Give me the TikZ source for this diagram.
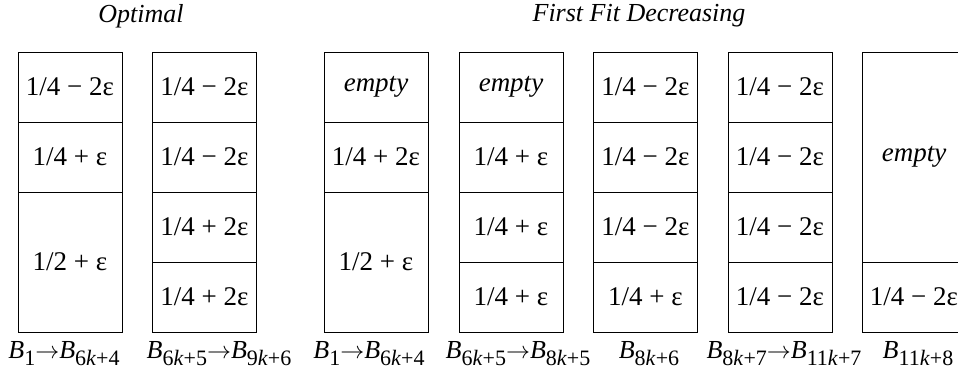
\documentclass[tikz,border=0pt]{standalone}
\usepackage{fontspec}
\setmainfont{Liberation Serif}
\usetikzlibrary{positioning}
\tikzset{
  cell/.style     = {draw,minimum width=52pt,minimum height=35pt,inner sep=0pt,outer sep=0pt},
  tallcell/.style = {cell,minimum height=70pt},
  hugecell/.style = {cell,minimum height=105pt},
  heading/.style  = {font=\fontsize{13}{15}\selectfont\itshape},
  binrange/.style = {anchor=base,inner sep=0pt,font=\fontsize{13}{15}\selectfont}
}
\newcommand{\bin}[1]{\textit{B}\raisebox{-3.5pt}{\fontsize{11}{12}\selectfont #1}}
\newcommand{\kk}{\textit{k}}
\newcommand{\ra}{$\rightarrow$}

\begin{document}
\begin{tikzpicture}[x=0.5pt,y=-0.5pt,font=\fontsize{13.5}{15}\selectfont]
  \useasboundingbox (0,0) rectangle (958,369);
  \clip (0,0) rectangle (958,369);
  \node[heading] (hopt) at (141,16) {Optimal};
  \node[heading] (hffd) at (639,16) {First Fit Decreasing};
  % optimal packing
  \node[cell] (o1a) at (70,87) {1/4 − 2ε};
  \node[cell,below=0pt of o1a] (o1b) {1/4 + ε};
  \node[tallcell,below=0pt of o1b] (o1c) {1/2 + ε};
  \node[cell] (o2a) at (204.5,87) {1/4 − 2ε};
  \node[cell,below=0pt of o2a] (o2b) {1/4 − 2ε};
  \node[cell,below=0pt of o2b] (o2c) {1/4 + 2ε};
  \node[cell,below=0pt of o2c] (o2d) {1/4 + 2ε};
  % first fit decreasing
  \node[cell] (f1a) at (376,87) {\textit{empty}};
  \node[cell,below=0pt of f1a] (f1b) {1/4 + 2ε};
  \node[tallcell,below=0pt of f1b] (f1c) {1/2 + ε};
  \node[cell] (f2a) at (511,87) {\textit{empty}};
  \node[cell,below=0pt of f2a] (f2b) {1/4 + ε};
  \node[cell,below=0pt of f2b] (f2c) {1/4 + ε};
  \node[cell,below=0pt of f2c] (f2d) {1/4 + ε};
  \node[cell] (f3a) at (645.5,87) {1/4 − 2ε};
  \node[cell,below=0pt of f3a] (f3b) {1/4 − 2ε};
  \node[cell,below=0pt of f3b] (f3c) {1/4 − 2ε};
  \node[cell,below=0pt of f3c] (f3d) {1/4 + ε};
  \node[cell] (f4a) at (780,87) {1/4 − 2ε};
  \node[cell,below=0pt of f4a] (f4b) {1/4 − 2ε};
  \node[cell,below=0pt of f4b] (f4c) {1/4 − 2ε};
  \node[cell,below=0pt of f4c] (f4d) {1/4 − 2ε};
  \node[hugecell] (f5a) at (914,157) {\textit{empty}};
  \node[cell,below=0pt of f5a] (f5b) {1/4 − 2ε};
  % bin ranges
  \node[binrange] (lo1) at (64,358)  {\bin{1}\ra\bin{6\kk+4}};
  \node[binrange] (lo2) at (219,358) {\bin{6\kk+5}\ra\bin{9\kk+6}};
  \node[binrange] (lf1) at (369,358) {\bin{1}\ra\bin{6\kk+4}};
  \node[binrange] (lf2) at (518,358) {\bin{6\kk+5}\ra\bin{8\kk+5}};
  \node[binrange] (lf3) at (649,358) {\bin{8\kk+6}};
  \node[binrange] (lf4) at (784,358) {\bin{8\kk+7}\ra\bin{11\kk+7}};
  \node[binrange] (lf5) at (918,358) {\bin{11\kk+8}};
\end{tikzpicture}
\end{document}
